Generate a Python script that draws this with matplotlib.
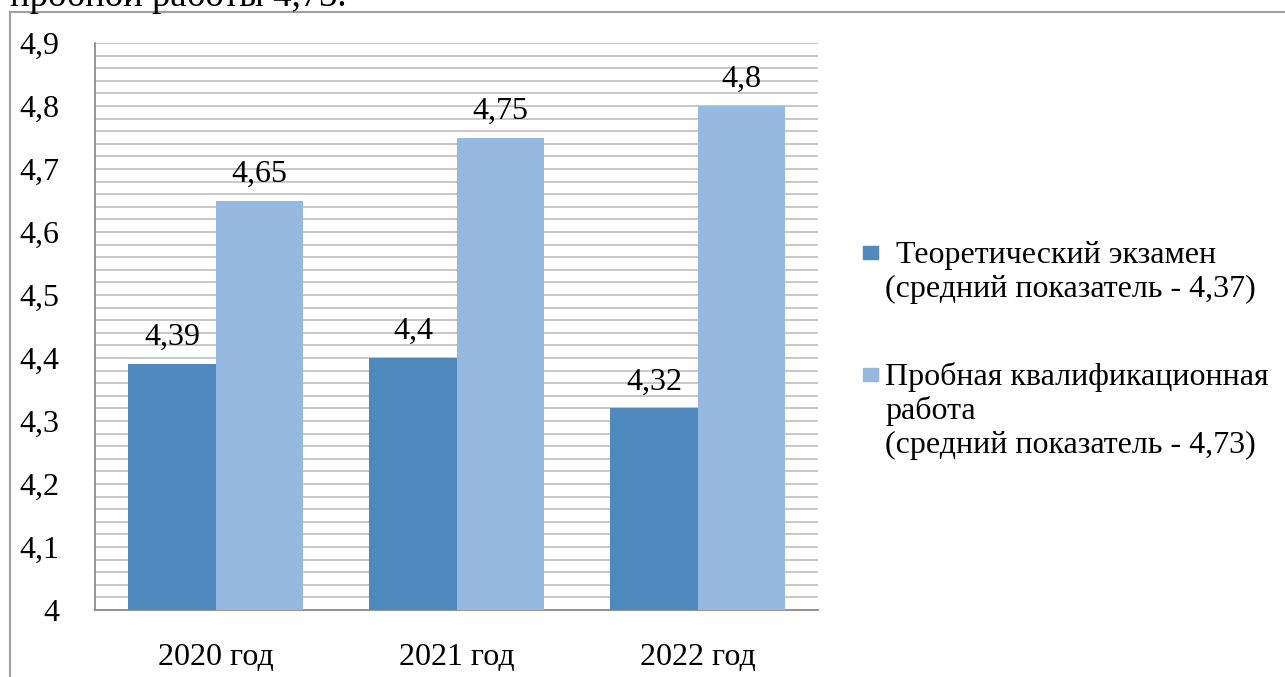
import matplotlib
matplotlib.use("Agg")
import matplotlib.pyplot as plt
from matplotlib import font_manager
from matplotlib.lines import Line2D
from matplotlib.patches import Rectangle
import numpy as np

categories = ["2020 год", "2021 год", "2022 год"]
theory = [4.39, 4.40, 4.32]
trial = [4.65, 4.75, 4.80]
series_labels = [" Теоретический экзамен\n(средний показатель - 4,37)",
                 "Пробная квалификационная\nработа\n(средний показатель - 4,73)"]
y_ticks = [4.0, 4.1, 4.2, 4.3, 4.4, 4.5, 4.6, 4.7, 4.8, 4.9]
y_tick_labels = ["4", "4,1", "4,2", "4,3", "4,4", "4,5", "4,6", "4,7", "4,8", "4,9"]
header_text = "пробной работы 4,73."

W, H = 1285, 677
FS = 23
c_dark = "#4F89BD"
c_light = "#98B9DF"

# pick a Times-like serif font that is installed
available = {f.name for f in font_manager.fontManager.ttflist}
serif_candidates = ["Liberation Serif", "Tinos", "Times New Roman", "Nimbus Roman",
                    "FreeSerif", "Noto Serif", "DejaVu Serif"]
chosen = [n for n in serif_candidates if n in available]
if not chosen:
    chosen = sorted(n for n in available if "Serif" in n and "Sans" not in n and "Mono" not in n)
FONT = chosen[0] if chosen else "DejaVu Serif"

plt.rcParams['font.family'] = [FONT, 'DejaVu Sans']
fig = plt.figure(figsize=(W / 100, H / 100), dpi=100)
ax = fig.add_axes([95 / W, (H - 610) / H, 723 / W, (610 - 43) / H])

x = np.arange(len(categories))
bw = 0.362
b1 = ax.bar(x - bw / 2, theory, bw, color=c_dark, label=series_labels[0], zorder=3)
b2 = ax.bar(x + bw / 2, trial, bw, color=c_light, label=series_labels[1], zorder=3)

for bars, vals in ((b1, theory), (b2, trial)):
    for rect, v in zip(bars, vals):
        ax.annotate(f"{v:g}".replace(".", ","), (rect.get_x() + rect.get_width() / 2, v),
                    xytext=(0, 19), textcoords="offset pixels", ha="center", va="baseline",
                    fontsize=FS, color="black", zorder=4)

ax.set_xlim(-0.5, len(categories) - 0.5)
ax.set_ylim(4.0, 4.9)
ax.set_yticks(y_ticks)
ax.set_yticklabels(y_tick_labels, fontsize=FS)
ax.set_yticks(np.arange(4.0, 4.9001, 0.02), minor=True)
ax.set_xticks(x)
ax.set_xticklabels(categories, fontsize=FS)
ax.tick_params(axis="y", which="both", length=0, pad=26)
ax.tick_params(axis="x", length=0, pad=24)
ax.grid(axis="y", which="both", color="#c4c4c4", linewidth=1.3, zorder=0)
for s in ["top", "right"]:
    ax.spines[s].set_visible(False)
for s in ["left", "bottom"]:
    ax.spines[s].set_color("#8c8c8c")
    ax.spines[s].set_linewidth(1.3)

# legend (manual, markers aligned with first line)
leg_x_marker = 863 / W
leg_x_text = 885 / W
entries = [(series_labels[0], c_dark, 263), (series_labels[1], c_light, 385)]
for lab, col, base in entries:
    fig.patches.append(Rectangle((leg_x_marker, 1 - (base - 4) / H), 15 / W, 13 / H,
                                 transform=fig.transFigure, color=col, figure=fig))
    for i, ln in enumerate(lab.split("\n")):
        xx = leg_x_text if not (i == 0 and ln.startswith(" ")) else leg_x_text + 3 / W
        fig.text(xx, 1 - (base + i * 34) / H, ln, fontsize=FS, ha="left", va="baseline")

# outer frame (left and top edges)
fig.add_artist(Line2D([10 / W, 10 / W], [1 - 12 / H, 0], transform=fig.transFigure,
                      color="#a0a0a0", linewidth=1.5))
fig.add_artist(Line2D([10 / W, 1], [1 - 12 / H, 1 - 12 / H], transform=fig.transFigure,
                      color="#a0a0a0", linewidth=1.5))

# header text of the page, partly above the picture as in the reference
fig.text(10 / W, 1 - 6 / H, header_text, fontsize=26.5, ha="left", va="baseline")

fig.savefig("out.png", dpi=100)
